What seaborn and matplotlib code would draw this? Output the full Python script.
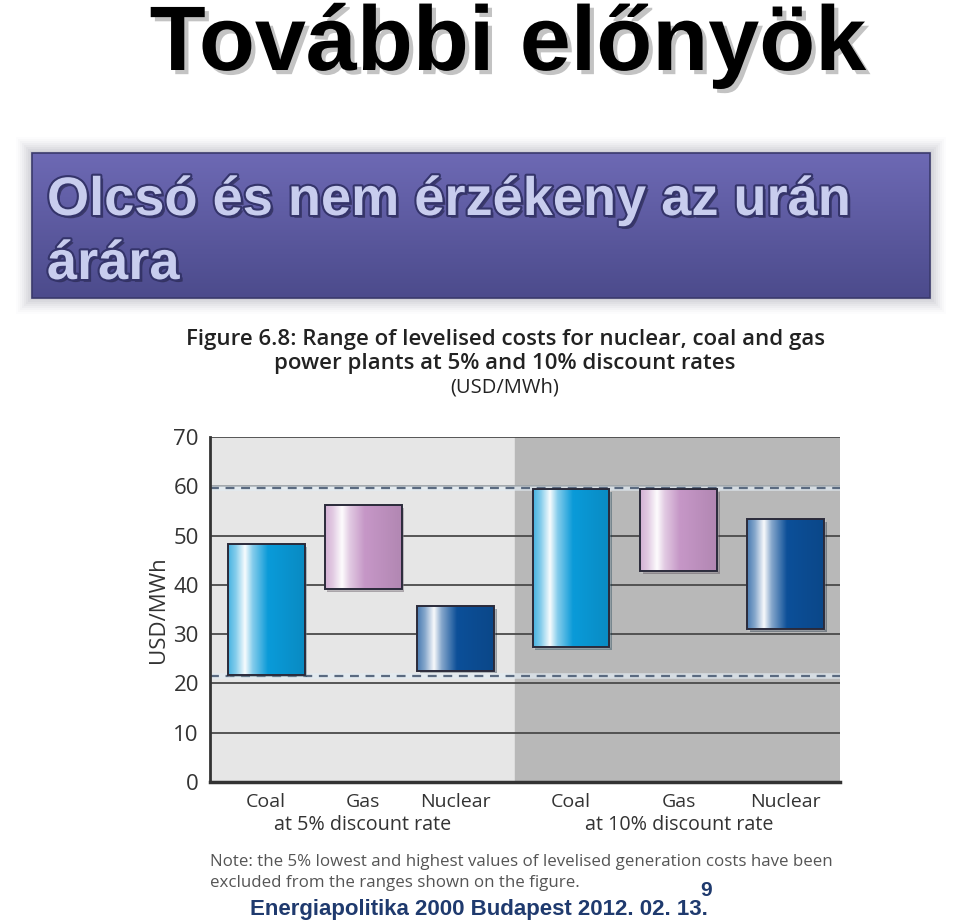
import numpy as np
import matplotlib
matplotlib.use("Agg")
import matplotlib.pyplot as plt
import matplotlib.patheffects as pe
from matplotlib.colors import to_rgb
import seaborn as sns

# ---- data (USD/MWh ranges) ----
plants = ["Coal", "Gas", "Nuclear", "Coal", "Gas", "Nuclear"]
low_cost = [21.8, 39.1, 22.6, 27.4, 42.8, 31.0]
high_cost = [48.3, 56.2, 35.7, 59.4, 59.4, 53.3]
group_labels = ["at 5% discount rate", "at 10% discount rate"]
reference_lines = [59.6, 21.5]
y_ticks = [0, 10, 20, 30, 40, 50, 60, 70]

# ---- style ----
bar_colors = ["#0a9ad8", "#c596c6", "#0c4f98", "#0a9ad8", "#c596c6", "#0c4f98"]
bar_pos = [0.089, 0.243, 0.390, 0.573, 0.744, 0.914]   # axis fractions
bar_width = 0.122
split_at = 0.484

sns.set_style("white")
plt.rcParams["font.family"] = ["Open Sans", "DejaVu Sans"]
arial = ["Liberation Sans", "DejaVu Sans"]

W, H = 960, 924
fig = plt.figure(figsize=(W / 100, H / 100), dpi=100)
fig.patch.set_facecolor("white")

# background axes in pixel coordinates for the slide decoration
bg = fig.add_axes([0, 0, 1, 1])
bg.set_xlim(0, W)
bg.set_ylim(H, 0)
bg.axis("off")
bg.patch.set_alpha(0)

# slide title
bg.text(508, 70, "További előnyök", ha="center", va="baseline",
        fontsize=66, fontweight="bold", family=arial, color="black",
        path_effects=[pe.withSimplePatchShadow(offset=(3, -3), shadow_rgbFace="#888888", alpha=0.5)])

# purple header box with soft glow
for k, a in zip(range(16, 0, -2), np.linspace(0.02, 0.09, 8)):
    bg.add_patch(plt.Rectangle((32 - k, 153 - k), 898 + 2 * k, 145 + 2 * k,
                               facecolor="#8a8a9a", edgecolor="none", alpha=a))
top_c = np.array(to_rgb("#6d69b4"))
bot_c = np.array(to_rgb("#4c4b8c"))
grad = np.linspace(0, 1, 100)[:, None, None] * (bot_c - top_c) + top_c
bg.imshow(grad, extent=(32, 930, 298, 153), aspect="auto", zorder=2)
bg.add_patch(plt.Rectangle((32, 153), 898, 145, facecolor="none",
                           edgecolor="#3a3a6c", lw=1.2, zorder=3))
sub_fx = [pe.withSimplePatchShadow(offset=(2, -2), shadow_rgbFace="#222244", alpha=0.6),
          pe.Stroke(linewidth=3, foreground="#34346a"), pe.Normal()]
for txt, yb in [("Olcsó és nem érzékeny az urán", 215), ("árára", 279)]:
    bg.text(47, yb, txt, ha="left", va="baseline", fontsize=39, fontweight="bold",
            family=arial, color="#c8cdee", path_effects=sub_fx, zorder=4)

# figure caption
bg.text(505, 340, "Figure 6.8: Range of levelised costs for nuclear, coal and gas",
        ha="center", va="center", fontsize=16, fontweight="semibold", color="#222222")
bg.text(505, 364, "power plants at 5% and 10% discount rates",
        ha="center", va="center", fontsize=16, fontweight="semibold", color="#222222")
bg.text(505, 388, "(USD/MWh)", ha="center", va="center", fontsize=14.5, color="#222222")

# ---- chart ----
ax = fig.add_axes([210 / W, 1 - 782 / H, 630 / W, 345 / H])
ax.set_facecolor("none")
ax.axvspan(0, split_at, color="#e6e6e6", zorder=0)
ax.axvspan(split_at, 1, color="#b8b8b8", zorder=0)

for yv in y_ticks[1:]:
    ax.axhline(yv, color="#4a4a4a", lw=1.3, zorder=1)
for yv in reference_lines:
    ax.axhline(yv, color="#e2ecf4", lw=4, alpha=0.7, zorder=1.2)
    ax.axhline(yv, color="#5a6a80", lw=1.6, ls=(0, (4, 3)), zorder=1.3)

heights = [h - l for h, l in zip(high_cost, low_cost)]
bars = ax.bar(bar_pos, heights, width=bar_width, bottom=low_cost, color=bar_colors,
              zorder=2)
for b in bars:
    b.set_path_effects([pe.SimplePatchShadow(offset=(2, -2), alpha=0.35), pe.Normal()])

# glossy gradient across each bar
t = np.linspace(0, 1, 200)
white_w = np.interp(t, [0, 0.10, 0.22, 0.32, 0.52, 1], [0.25, 0.5, 0.97, 0.5, 0.0, 0.0])
dark_w = np.interp(t, [0, 0.55, 1], [0.0, 0.0, 0.10])
for b, c in zip(bars, bar_colors):
    base = np.array(to_rgb(c))
    row = base * (1 - white_w[:, None]) + white_w[:, None]
    row = row * (1 - dark_w[:, None])
    x0, y0 = b.get_x(), b.get_y()
    im = ax.imshow(row[None, :, :], extent=(x0, x0 + b.get_width(), y0, y0 + b.get_height()),
                   aspect="auto", zorder=3)
    im.set_clip_path(b)

ax.bar(bar_pos, heights, width=bar_width, bottom=low_cost, fill=False,
       edgecolor="#2a2a3a", lw=1.4, zorder=4)

ax.set_xlim(0, 1)
ax.set_ylim(0, 70)
ax.set_yticks(y_ticks)
ax.set_yticklabels([str(v) for v in y_ticks], fontsize=16, color="#333333")
ax.set_xticks(bar_pos)
ax.set_xticklabels(plants, fontsize=14, color="#333333")
ax.tick_params(axis="both", length=0, pad=8)
ax.set_ylabel("USD/MWh", fontsize=16, color="#333333")
ax.yaxis.set_label_coords(-0.065, 0.5)
for s in ["top", "right"]:
    ax.spines[s].set_visible(False)
ax.spines["left"].set_color("#333333")
ax.spines["left"].set_linewidth(2)
ax.spines["bottom"].set_color("#333333")
ax.spines["bottom"].set_linewidth(2.5)
for sp in ax.spines.values():
    sp.set_zorder(5)

for lbl, xc in zip(group_labels, [363, 679]):
    bg.text(xc, 825, lbl, ha="center", va="center", fontsize=14.2, color="#333333")

# note and footer
bg.text(210, 862, "Note: the 5% lowest and highest values of levelised generation costs have been",
        ha="left", va="center", fontsize=12.2, color="#555555")
bg.text(210, 883, "excluded from the ranges shown on the figure.",
        ha="left", va="center", fontsize=12.2, color="#555555")
bg.text(706, 890, "9", ha="center", va="center", fontsize=15, fontweight="bold",
        family=arial, color="#1f3a6e")
bg.text(479, 909, "Energiapolitika 2000 Budapest 2012. 02. 13.", ha="center", va="center",
        fontsize=16, fontweight="bold", family=arial, color="#1f3a6e")

fig.savefig("out.png", dpi=100)
plt.close(fig)
